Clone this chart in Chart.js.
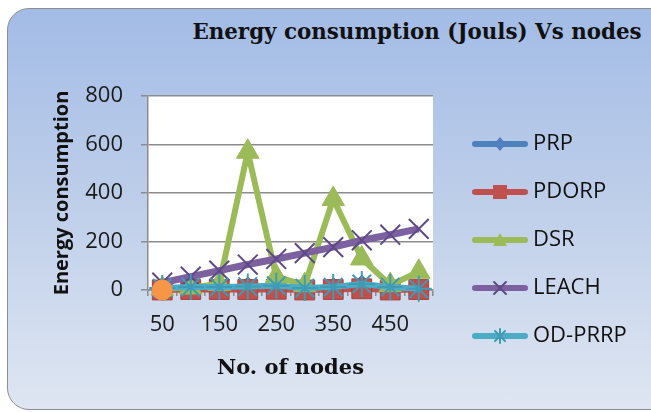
<!DOCTYPE html>
<html>
<head>
<meta charset="utf-8">
<script src="https://cdn.jsdelivr.net/npm/chart.js@4.4.1/dist/chart.umd.min.js"></script>
<style>
  html, body { margin:0; padding:0; background:#ffffff; }
  body { width:651px; height:412px; overflow:hidden; position:relative; }
  #frame { position:absolute; left:7px; top:8px; width:700px; height:400px;
    border:1.5px solid #8e8e8e; border-radius:22px;
    background:linear-gradient(180deg, #a3bce6 0%, #bccde9 45%, #dfe6f2 100%); }
  #title { position:absolute; left:0; top:20px; width:834px; text-align:center;
    font-family:"DejaVu Serif", serif; font-weight:bold; font-size:21.4px; line-height:24px;
    color:#111; white-space:nowrap; }
  #c { position:absolute; left:0; top:0; }
</style>
</head>
<body>
<div id="frame"></div>
<div id="title">Energy consumption (Jouls) Vs nodes</div>
<canvas id="c" width="651" height="412"></canvas>
<script>
// ---- data ----
const categories = ['50','100','150','200','250','300','350','400','450','500'];
const seriesNames = ['PRP','PDORP','DSR','LEACH','OD-PRRP'];
const prpValues    = [4, 10, 10, 12, 16, 6, 10, 20, 10, 4];
const pdorpValues  = [0, 2, 2, 2, 3, 0, 2, 5, 0, 2];
const dsrValues    = [5, 10, 25, 570, 55, 20, 375, 130, 20, 75];
const leachValues  = [30, 55, 80, 105, 128, 152, 177, 205, 228, 252];
const odprrpValues = [8, 12, 12, 14, 18, 8, 12, 25, 12, 5];
const extraValues  = [0];
const yMin = 0, yMax = 800, yStep = 200;

// ---- styles ----
const colors = ['#4f81bd','#c0504d','#9bbb59','#7d60a0','#4bacc6'];
const markerBorders = ['#3d6ca4','#a53f3c','#9bbb59','#5e4a86','#3f9ab3'];

function makeIcon(i){
  const c = document.createElement('canvas');
  c.width = 75; c.height = 24;
  const g = c.getContext('2d');
  g.strokeStyle = colors[i]; g.lineWidth = 6; g.lineCap = 'round';
  g.beginPath(); g.moveTo(22,12); g.lineTo(72,12); g.stroke();
  const cx = 47, cy = 12;
  g.fillStyle = colors[i];
  g.strokeStyle = markerBorders[i];
  g.lineWidth = 1.5;
  g.beginPath();
  if (i === 0) { g.moveTo(cx, cy-7); g.lineTo(cx+6, cy); g.lineTo(cx, cy+7); g.lineTo(cx-6, cy); g.closePath(); g.fill(); }
  else if (i === 1) { g.rect(cx-7, cy-7, 14, 14); g.fill(); }
  else if (i === 2) { g.moveTo(cx, cy-7); g.lineTo(cx+7, cy+6); g.lineTo(cx-7, cy+6); g.closePath(); g.fill(); }
  else if (i === 3) { g.lineWidth = 2; g.moveTo(cx-6, cy-6); g.lineTo(cx+6, cy+6); g.moveTo(cx+6, cy-6); g.lineTo(cx-6, cy+6); g.stroke(); }
  else { g.lineWidth = 2; g.moveTo(cx-5, cy-5); g.lineTo(cx+5, cy+5); g.moveTo(cx+5, cy-5); g.lineTo(cx-5, cy+5); g.moveTo(cx, cy-7); g.lineTo(cx, cy+7); g.stroke(); }
  return c;
}
const icons = seriesNames.map((_, i) => makeIcon(i));

const plotBg = {
  id: 'plotBg',
  beforeDraw(chart) {
    const {ctx, chartArea: a} = chart;
    ctx.save(); ctx.fillStyle = '#ffffff';
    ctx.fillRect(a.left, a.top, a.right - a.left, a.bottom - a.top);
    ctx.restore();
  }
};
// let the legend box reach the canvas edge so its labels are not clipped
const legendReach = {
  id: 'legendReach',
  afterLayout(chart) {
    const lg = chart.legend;
    if (lg) { lg.right = chart.width; lg.width = lg.right - lg.left; }
  }
};

const tickFont = {family: 'Open Sans', size: 22};
const gridColor = '#8c8c8c';

new Chart(document.getElementById('c'), {
  type: 'line',
  data: {
    labels: categories,
    datasets: [
      {label: seriesNames[0], data: prpValues, borderColor: colors[0], backgroundColor: colors[0],
       pointStyle: 'rectRot', pointRadius: 10, pointBorderColor: markerBorders[0], pointBorderWidth: 1, borderWidth: 6, order: 6},
      {label: seriesNames[1], data: pdorpValues, borderColor: colors[1], backgroundColor: colors[1],
       pointStyle: 'rect', pointRadius: 14, pointBorderColor: markerBorders[1], pointBorderWidth: 1, borderWidth: 6, order: 5},
      {label: seriesNames[2], data: dsrValues, borderColor: colors[2], backgroundColor: colors[2],
       pointStyle: 'triangle', pointRadius: 13, pointBorderColor: markerBorders[2], pointBorderWidth: 1, borderWidth: 6, order: 4},
      {label: seriesNames[3], data: leachValues, borderColor: colors[3], backgroundColor: colors[3],
       pointStyle: 'crossRot', pointRadius: 14, pointBorderColor: markerBorders[3], pointBorderWidth: 2, borderWidth: 7, order: 3},
      {label: seriesNames[4], data: odprrpValues, borderColor: colors[4], backgroundColor: colors[4],
       pointStyle: 'star', pointRadius: 13, pointBorderColor: markerBorders[4], pointBorderWidth: 2, borderWidth: 6, order: 2},
      {label: '', data: extraValues, borderColor: '#f79646', backgroundColor: '#f79646',
       pointStyle: 'circle', pointRadius: 10, pointBorderColor: '#f79646', pointBorderWidth: 1, borderWidth: 6, order: 1}
    ]
  },
  options: {
    responsive: false,
    animation: false,
    devicePixelRatio: 1,
    layout: {padding: {left: 40, top: 96, right: 87, bottom: 28}},
    elements: {line: {tension: 0, fill: false}},
    datasets: {line: {clip: false}},
    plugins: {
      title: {display: false},
      tooltip: {enabled: false},
      legend: {
        position: 'right',
        align: 'center',
        labels: {
          usePointStyle: true,
          pointStyleWidth: 63,
          padding: 26,
          color: '#111111',
          font: {family: 'Open Sans', size: 22},
          generateLabels: (chart) => seriesNames.map((name, i) => ({
            text: name, pointStyle: icons[i], fillStyle: colors[i], strokeStyle: colors[i],
            lineWidth: 0, hidden: false, datasetIndex: i, fontColor: '#111111'
          }))
        }
      }
    },
    scales: {
      x: {
        type: 'category',
        offset: true,
        grid: {display: true, drawOnChartArea: false, drawTicks: true, tickLength: 6, offset: true, color: gridColor, lineWidth: 1.5},
        border: {display: true, color: gridColor, width: 1.5},
        ticks: {autoSkip: false, maxRotation: 0, minRotation: 0, padding: 16, font: tickFont, color: '#1a1a1a',
                callback: (v, i) => (i % 2 === 0 ? categories[i] : '')},
        title: {display: true, text: 'No. of nodes', color: '#111111',
                font: {family: 'DejaVu Serif', size: 21, weight: 'bold'}, padding: {top: 0, bottom: 3}},
        afterFit: (s) => { s.height = 94; }
      },
      y: {
        min: yMin, max: yMax,
        grid: {color: gridColor, lineWidth: 1.5, tickLength: 7},
        border: {display: true, color: gridColor, width: 1.5},
        ticks: {stepSize: yStep, padding: 18, font: tickFont, color: '#1a1a1a'},
        title: {display: true, text: 'Energy consumption', color: '#111111',
                font: {family: 'Open Sans', size: 20, weight: 'bold'}, padding: {top: 10, bottom: 0}},
        afterFit: (s) => { s.width = 108; }
      }
    }
  },
  plugins: [plotBg, legendReach]
});
</script>
</body>
</html>
